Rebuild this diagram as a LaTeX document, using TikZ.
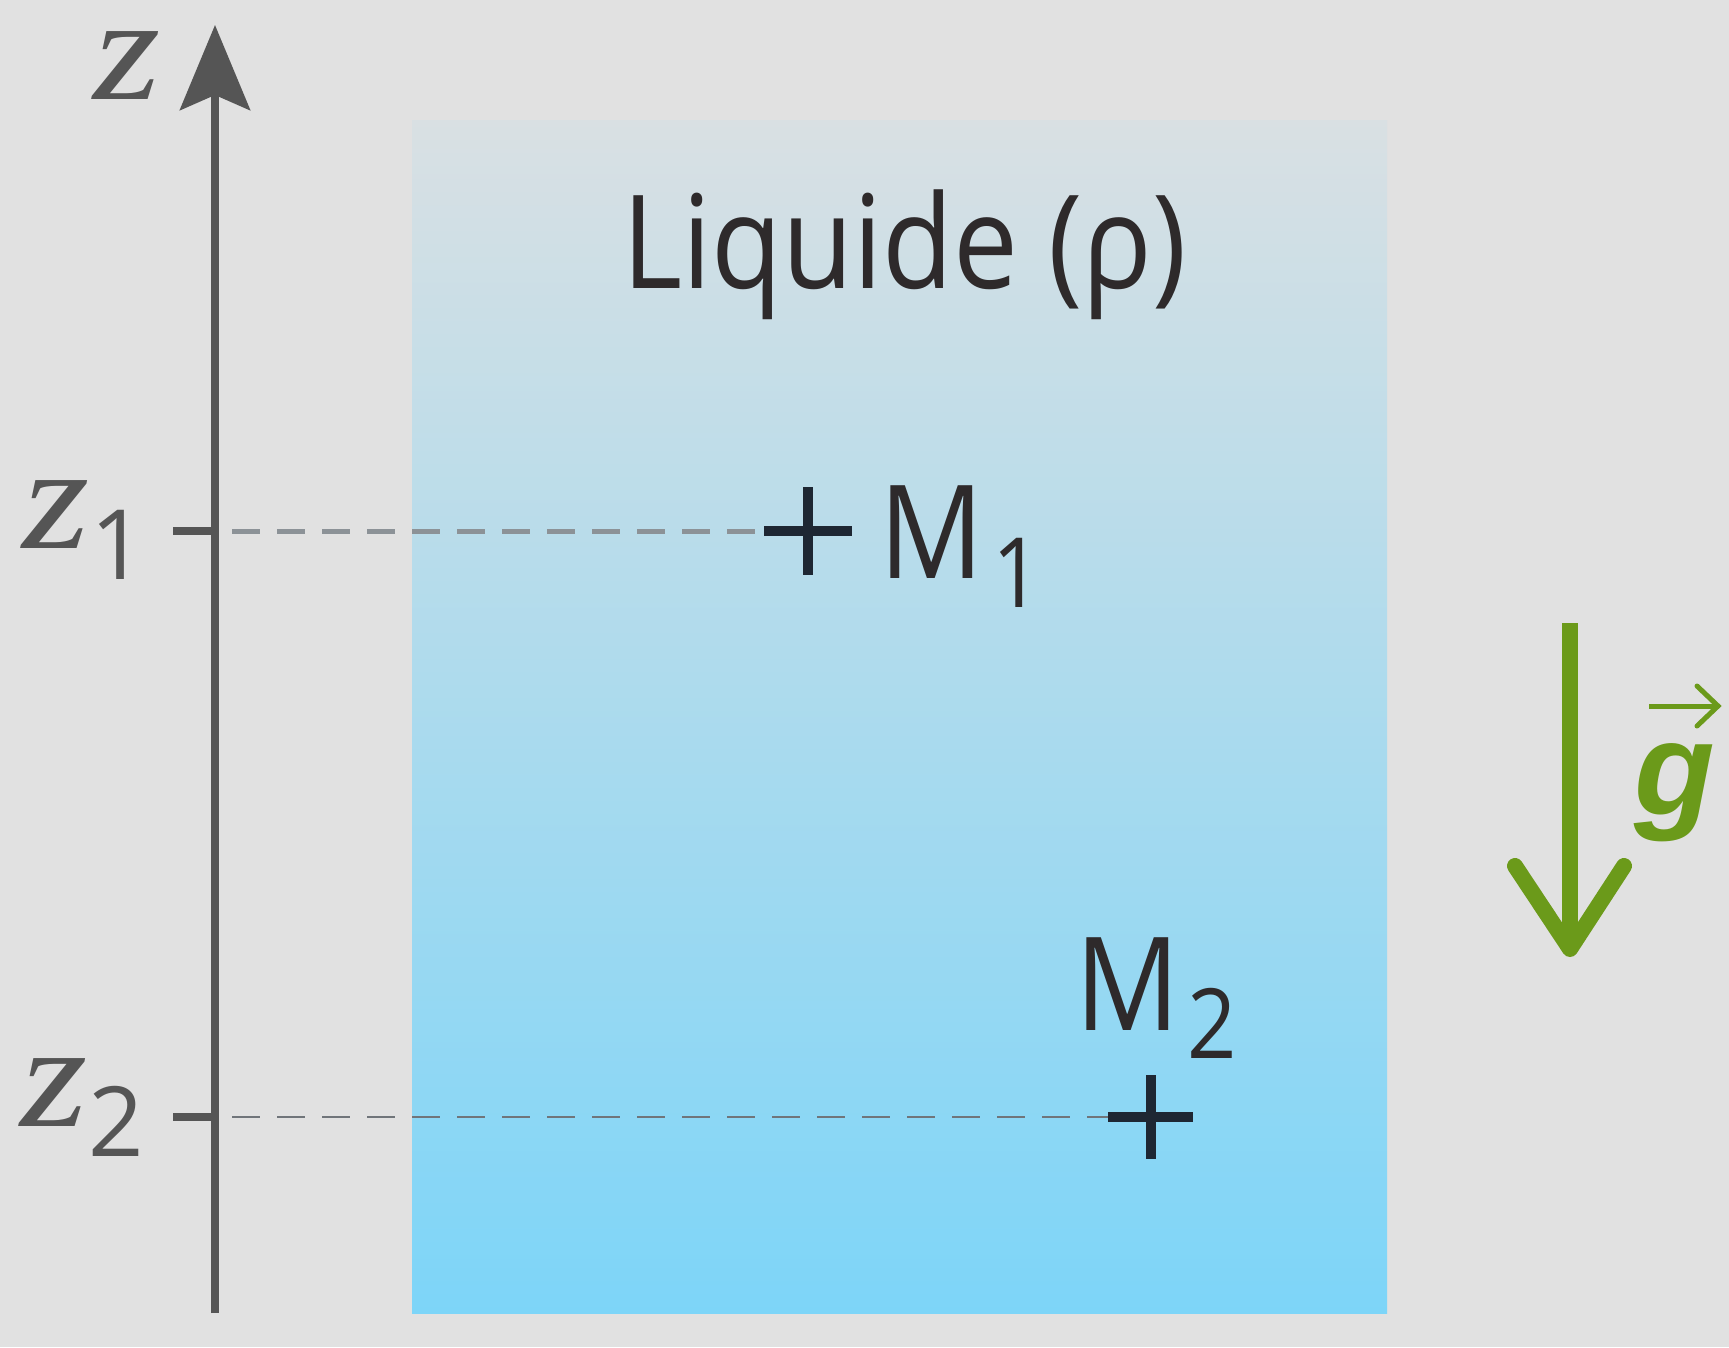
\documentclass[tikz,border=0pt]{standalone}
\usepackage{fontspec}
\setmainfont{Open Sans}
\newfontfamily\gfont{Liberation Sans}
\newfontfamily\zfont{Liberation Serif}
\usetikzlibrary{arrows.meta}
\definecolor{bg}{HTML}{E1E1E1}
\definecolor{axisgray}{HTML}{555555}
\definecolor{textdark}{HTML}{2E2A2B}
\definecolor{crossc}{HTML}{1E2733}
\definecolor{liqtop}{HTML}{D9E0E3}
\definecolor{liqmid}{HTML}{B4DDEC}
\definecolor{liqbot}{HTML}{7DD5F8}
\definecolor{gvec}{HTML}{6B9A1A}
\definecolor{dashA}{HTML}{8C9297}
\definecolor{dashB}{HTML}{70757A}
\newcommand{\fs}[1]{\fontsize{#1}{#1}\selectfont}
\newcommand{\narrow}[1]{\scalebox{0.89}[1]{#1}}
\newcommand{\zz}{\scalebox{1.17}[1]{\zfont\itshape z}}
\tikzset{
  axisline/.style={draw=axisgray, line width=8pt},
  tickline/.style={draw=axisgray, line width=8pt},
  levelA/.style={draw=dashA, line width=5pt, dash pattern=on 28pt off 17pt},
  levelB/.style={draw=dashB, line width=2pt, dash pattern=on 28pt off 17pt},
  crossline/.style={draw=crossc, line width=10pt},
  gline/.style={draw=gvec, line width=16pt},
  lbl/.style={inner sep=0pt, anchor=base west, text=textdark},
  zlbl/.style={inner sep=0pt, anchor=base west, text=axisgray, text height=70pt},
}
\begin{document}
\begin{tikzpicture}[x=1pt,y=-1pt]
\fill[bg] (0,0) rectangle (1729,1347);
\useasboundingbox (0,0) rectangle (1729,1347);
% liquid
\shade[top color=liqtop, middle color=liqmid, bottom color=liqbot] (412,120) rectangle (1387,1313);
% coordinates
\coordinate (axbot) at (215,1313);
\coordinate (axtop) at (215,25);
\coordinate (t1a) at (173,531);
\coordinate (t1b) at (215,531);
\coordinate (t2a) at (173,1117);
\coordinate (t2b) at (215,1117);
\coordinate (d1) at (232,531);
\coordinate (d2) at (232,1117);
\coordinate (M1) at (808,531);
\coordinate (M2) at (1151,1117);
% axis
\draw[axisline, -{Stealth[length=85pt,width=70pt,inset=15pt]}] (axbot) -- (axtop);
\draw[tickline] (t1a) -- (t1b);
\draw[tickline] (t2a) -- (t2b);
% levels
\draw[levelA] (d1) -- ([xshift=-44pt]M1);
\draw[levelB] (d2) -- ([xshift=-43pt]M2);
% crosses
\draw[crossline] ([xshift=-44pt]M1) -- ([xshift=44pt]M1);
\draw[crossline] ([yshift=44pt]M1) -- ([yshift=-44pt]M1);
\draw[crossline] ([xshift=-43pt]M2) -- ([xshift=42pt]M2);
\draw[crossline] ([yshift=42pt]M2) -- ([yshift=-42pt]M2);
% labels
\node[lbl] (liq) at (622,288) {\fs{130}\narrow{Liquide (ρ)}};
\node[lbl] (m1) at (879,578) {\fs{130}\narrow{M}\kern9pt\raisebox{-29pt}{\fs{97}\narrow{1}}};
\node[lbl] (m2) at (1075,1030) {\fs{130}\narrow{M}\kern8pt\raisebox{-28pt}{\fs{97}\narrow{2}}};
\node[zlbl] (zax) at (93,99) {\fs{148}\zz};
\node[zlbl] (z1) at (22,548) {\fs{148}\zz\kern1pt\raisebox{-31pt}{\fs{97}1}};
\node[zlbl] (z2) at (20,1126) {\fs{148}\zz\kern1pt\raisebox{-30pt}{\fs{97}2}};
% gravity
\coordinate (gtop) at (1570,623);
\coordinate (gtip) at (1570,949);
\coordinate (gl) at (1515,866);
\coordinate (gr) at (1624,866);
\draw[gline] (gtop) -- (gtip);
\draw[gline, line cap=round, line join=round] (gl) -- (gtip) -- (gr);
\node[inner sep=0pt, anchor=base west, text=gvec] (g) at (1634,814) {\gfont\fs{132}\bfseries\itshape g};
\coordinate (va) at (1649,706);
\coordinate (vb) at (1718,706);
\coordinate (vu) at (1697,686);
\coordinate (vd) at (1697,726);
\draw[draw=gvec, line width=5pt] (va) -- (vb);
\draw[draw=gvec, line width=5pt, line cap=round] (vu) -- (vb) -- (vd);
\end{tikzpicture}
\end{document}
